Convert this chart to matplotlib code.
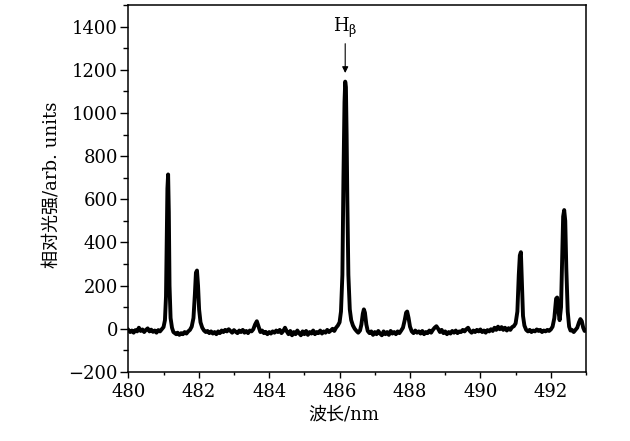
import matplotlib.pyplot as plt
from matplotlib.ticker import MultipleLocator

# spectrum (wavelength in nm, relative intensity)
wavelength = [
    480.00, 480.05, 480.10, 480.15, 480.20, 480.25, 480.30, 480.35, 480.40, 480.45,
    480.50, 480.55, 480.60, 480.65, 480.70, 480.75, 480.80, 480.85, 480.90, 480.95,
    481.00, 481.04, 481.07, 481.09, 481.11, 481.13, 481.15, 481.17, 481.20, 481.24,
    481.28, 481.32, 481.36, 481.40, 481.45, 481.50, 481.55, 481.60, 481.65, 481.70,
    481.75, 481.80, 481.85, 481.89, 481.92, 481.95, 481.98, 482.01, 482.05, 482.10,
    482.15, 482.20, 482.25, 482.30, 482.35, 482.40, 482.45, 482.50, 482.55, 482.60,
    482.65, 482.70, 482.75, 482.80, 482.85, 482.90, 482.95, 483.00, 483.05, 483.10,
    483.15, 483.20, 483.25, 483.30, 483.35, 483.40, 483.45, 483.50, 483.55, 483.60,
    483.65, 483.70, 483.75, 483.80, 483.85, 483.90, 483.95, 484.00, 484.05, 484.10,
    484.15, 484.20, 484.25, 484.30, 484.35, 484.40, 484.45, 484.50, 484.55, 484.60,
    484.65, 484.70, 484.75, 484.80, 484.85, 484.90, 484.95, 485.00, 485.05, 485.10,
    485.15, 485.20, 485.25, 485.30, 485.35, 485.40, 485.45, 485.50, 485.55, 485.60,
    485.65, 485.70, 485.75, 485.80, 485.85, 485.90, 485.95, 486.00, 486.04, 486.08,
    486.11, 486.14, 486.16, 486.18, 486.20, 486.22, 486.25, 486.29, 486.33, 486.38,
    486.43, 486.48, 486.53, 486.58, 486.62, 486.66, 486.69, 486.72, 486.76, 486.80,
    486.85, 486.90, 486.95, 487.00, 487.05, 487.10, 487.15, 487.20, 487.25, 487.30,
    487.35, 487.40, 487.45, 487.50, 487.55, 487.60, 487.65, 487.70, 487.75, 487.80,
    487.85, 487.89, 487.92, 487.96, 488.00, 488.05, 488.10, 488.15, 488.20, 488.25,
    488.30, 488.35, 488.40, 488.45, 488.50, 488.55, 488.60, 488.65, 488.70, 488.75,
    488.80, 488.85, 488.90, 488.95, 489.00, 489.05, 489.10, 489.15, 489.20, 489.25,
    489.30, 489.35, 489.40, 489.45, 489.50, 489.55, 489.60, 489.65, 489.70, 489.75,
    489.80, 489.85, 489.90, 489.95, 490.00, 490.05, 490.10, 490.15, 490.20, 490.25,
    490.30, 490.35, 490.40, 490.45, 490.50, 490.55, 490.60, 490.65, 490.70, 490.75,
    490.80, 490.85, 490.90, 490.95, 491.00, 491.05, 491.09, 491.12, 491.15, 491.18,
    491.21, 491.25, 491.30, 491.35, 491.40, 491.45, 491.50, 491.55, 491.60, 491.65,
    491.70, 491.75, 491.80, 491.85, 491.90, 491.95, 492.00, 492.05, 492.10, 492.15,
    492.18, 492.21, 492.25, 492.29, 492.32, 492.35, 492.38, 492.41, 492.44, 492.48,
    492.52, 492.56, 492.60, 492.65, 492.70, 492.75, 492.80, 492.84, 492.88, 492.92,
    492.96, 493.00,
]
intensity = [
    -5, -15, -8, -18, -6, -12, 5, -10, -3, -15,
    -5, 2, -12, -4, -14, -8, -18, -6, -12, -2,
    8, 40, 150, 400, 650, 715, 540, 200, 50, 5,
    -15, -20, -25, -18, -28, -20, -25, -15, -22, -12,
    -5, 10, 50, 160, 260, 270, 200, 90, 30, 5,
    -8, -15, -10, -20, -12, -22, -15, -25, -12, -20,
    -8, -15, -5, -12, -2, -10, -18, -6, -14, -20,
    -8, -15, -5, -18, -10, -20, -8, -12, -2, 20,
    35, 10, -15, -8, -20, -14, -25, -15, -22, -12,
    -18, -8, -15, -5, -20, -10, 5, -12, -25, -10,
    -30, -15, -25, -8, -20, -30, -12, -25, -10, -28,
    -15, -22, -8, -25, -15, -20, -8, -22, -12, -18,
    -5, -15, -8, 0, -10, 5, 15, 30, 80, 250,
    700, 1050, 1145, 1120, 900, 600, 250, 90, 40, 15,
    0, -10, -18, -8, 20, 70, 90, 75, 20, -10,
    -20, -12, -28, -15, -25, -10, -22, -30, -12, -25,
    -15, -28, -10, -22, -15, -25, -12, -20, -8, 5,
    40, 75, 80, 50, 10, -12, -20, -8, -18, -12,
    -22, -10, -25, -15, -20, -8, -18, -5, 5, 12,
    0, -15, -5, -20, -12, -25, -15, -22, -10, -18,
    -8, -20, -12, -15, -5, -12, -2, 5, -10, -18,
    -8, -15, -5, -12, -3, -15, -8, -18, -6, -12,
    -2, -10, 5, -5, 10, -2, 8, -5, 5, -8,
    3, -5, 8, 12, 25, 80, 250, 340, 355, 200,
    60, 15, -5, -12, -5, -15, -8, -12, -3, -10,
    -5, -15, -8, -12, -5, -10, -3, 10, 50, 140,
    145, 90, 40, 100, 300, 520, 550, 500, 280, 80,
    10, -8, -5, -15, -5, 5, 30, 45, 35, 5,
    -10, -5,
]

serif = ["DejaVu Serif", "Noto Sans CJK SC"]

fig = plt.figure(figsize=(6.3, 4.41), dpi=100)
ax = fig.add_axes([0.2037, 0.1565, 0.7265, 0.8322])

ax.plot(wavelength, intensity, color="black", linewidth=2.8)

ax.set_xlim(480, 493)
ax.set_ylim(-200, 1500)
ax.xaxis.set_major_locator(MultipleLocator(2))
ax.xaxis.set_minor_locator(MultipleLocator(1))
ax.yaxis.set_major_locator(MultipleLocator(200))
ax.yaxis.set_minor_locator(MultipleLocator(100))
ax.tick_params(axis="x", which="major", direction="out", length=4.2, width=1, labelsize=13, pad=4)
ax.tick_params(axis="x", which="minor", direction="out", length=2.4, width=1)
ax.tick_params(axis="y", which="major", direction="out", length=5.5, width=1, labelsize=13, pad=2)
ax.tick_params(axis="y", which="minor", direction="out", length=3.6, width=1)
for lab in ax.get_xticklabels() + ax.get_yticklabels():
    lab.set_family(serif)
for sp in ax.spines.values():
    sp.set_linewidth(1.1)

ax.set_xlabel("波长/nm", fontsize=13, family=serif)
ax.set_ylabel("相对光强/arb. units", fontsize=13, family=serif)
ax.xaxis.set_label_coords(0.471, -0.09)
ax.yaxis.set_label_coords(-0.148, 0.51)

# H-beta marker
ax.annotate(r"H$_\mathregular{β}$", xy=(486.16, 1185), xytext=(486.16, 1340),
            ha="center", va="bottom", fontsize=13, family=serif,
            arrowprops=dict(arrowstyle="-|>", color="black", lw=0.8,
                            mutation_scale=9, shrinkA=1, shrinkB=0))

fig.savefig("out.png", dpi=100)
